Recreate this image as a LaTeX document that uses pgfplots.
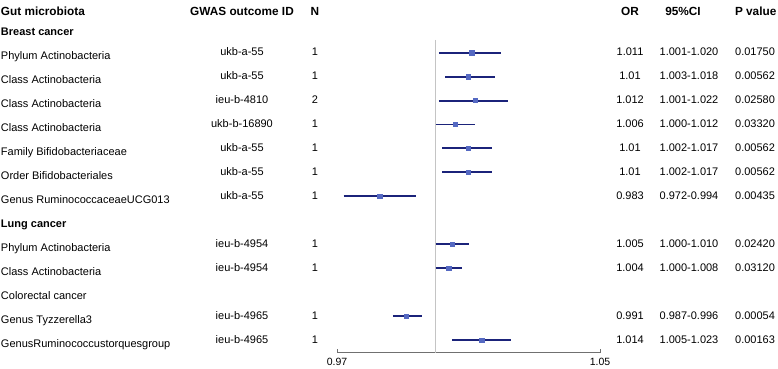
\documentclass[border=0pt]{standalone}
\usepackage{fontspec}
\setmainfont{Liberation Sans}
\usepackage{pgfplots}
\pgfplotsset{compat=1.18}
\usepackage{pgfplotstable}

\definecolor{cinavy}{HTML}{1B237A}
\definecolor{ptblue}{HTML}{5569C2}
\definecolor{refgray}{HTML}{C4C4C4}
\definecolor{axgray}{HTML}{707070}

% row (negative row index), OR, lower CI, upper CI
\pgfplotstableread{
row    or     lo     hi
-2     1.011  1.001  1.020
-3     1.010  1.003  1.018
-4     1.012  1.001  1.022
-5     1.006  1.000  1.012
-6     1.010  1.002  1.017
-7     1.010  1.002  1.017
-8     0.983  0.972  0.994
-10    1.005  1.000  1.010
-11    1.004  1.000  1.008
-13    0.991  0.987  0.996
-14    1.014  1.005  1.023
}\foresttable

\begin{document}
\begin{tikzpicture}[tx/.style={inner sep=0pt, outer sep=0pt, text height=1.45ex, text depth=0.3ex},
  nm/.style={tx, anchor=west, yshift=-4pt}]
\begin{axis}[
  scale only axis,
  width=263pt, height=352.7pt,
  xmin=0.97, xmax=1.05,
  ymin=-14.53, ymax=0.2005,
  axis y line=none,
  axis x line*=bottom,
  x axis line style={axgray, line width=0.6pt},
  xtick={0.97,1.05},
  xticklabels={0.97,1.05},
  tick align=inside,
  major tick length=3.5pt,
  xtick style={axgray, line width=0.6pt},
  /pgf/number format/assume math mode=true,
  xticklabel style={font=\fontsize{10.5}{12}\selectfont, inner sep=0pt, yshift=-5.5pt},
  clip=false,
]
% reference line at OR = 1
\addplot[refgray, line width=0.9pt] coordinates {(1,-1.47) (1,-14.53)};
% confidence intervals (from lower to upper limit)
\addplot[cinavy, line width=1.95pt, -,
  quiver={u=\thisrow{hi}-\thisrow{lo}, v=0}]
  table[x=lo, y=row] {\foresttable};
% point estimates
\addplot[only marks, mark=square*, mark size=2.1pt,
  mark options={fill=ptblue, draw=ptblue}]
  table[x=or, y=row] {\foresttable};

% ---------- text columns ----------
\def\hdr{\fontsize{11.8}{14}\selectfont\bfseries}
\def\grp{\fontsize{11}{13}\selectfont\bfseries}
\def\txt{\fontsize{11}{13}\selectfont}
% headers
\node[tx, anchor=west] at (axis cs:0.86779,-0.30) {\hdr Gut microbiota};
\node[tx] at (axis cs:0.94110,-0.30) {\hdr GWAS outcome ID};
\node[tx] at (axis cs:0.96331,-0.30) {\hdr N};
\node[tx] at (axis cs:1.05913,-0.30) {\hdr OR};
\node[tx] at (axis cs:1.07525,-0.30) {\hdr 95\%CI};
\node[tx, anchor=west] at (axis cs:1.09107,-0.30) {\hdr P value};
% group labels
\node[nm] at (axis cs:0.86779,-1) {\grp Breast cancer};
\node[nm] at (axis cs:0.86779,-9) {\grp Lung cancer};
\node[nm] at (axis cs:0.86779,-12) {\txt Colorectal cancer};
% rows
\foreach \r/\name/\id/\n/\orv/\ci/\p in {
  2/Phylum Actinobacteria/ukb-a-55/1/1.011/1.001-1.020/0.01750,
  3/Class Actinobacteria/ukb-a-55/1/1.01/1.003-1.018/0.00562,
  4/Class Actinobacteria/ieu-b-4810/2/1.012/1.001-1.022/0.02580,
  5/Class Actinobacteria/ukb-b-16890/1/1.006/1.000-1.012/0.03320,
  6/Family Bifidobacteriaceae/ukb-a-55/1/1.01/1.002-1.017/0.00562,
  7/Order Bifidobacteriales/ukb-a-55/1/1.01/1.002-1.017/0.00562,
  8/Genus RuminococcaceaeUCG013/ukb-a-55/1/0.983/0.972-0.994/0.00435,
  10/Phylum Actinobacteria/ieu-b-4954/1/1.005/1.000-1.010/0.02420,
  11/Class Actinobacteria/ieu-b-4954/1/1.004/1.000-1.008/0.03120,
  13/Genus Tyzzerella3/ieu-b-4965/1/0.991/0.987-0.996/0.00054,
  14/GenusRuminococcustorquesgroup/ieu-b-4965/1/1.014/1.005-1.023/0.00163}{
  \edef\tmp{\noexpand\node[nm] at (axis cs:0.86779,-\r) {\noexpand\txt \name};
    \noexpand\node[tx] at (axis cs:0.94110,-\r) {\noexpand\txt \id};
    \noexpand\node[tx] at (axis cs:0.96331,-\r) {\noexpand\txt \n};
    \noexpand\node[tx] at (axis cs:1.05913,-\r) {\noexpand\txt \orv};
    \noexpand\node[tx] at (axis cs:1.07707,-\r) {\noexpand\txt \ci};
    \noexpand\node[tx] at (axis cs:1.09715,-\r) {\noexpand\txt \p};}
  \tmp
}
\coordinate (bbtl) at (axis cs:0.86749,0.2005);
\coordinate (bbbr) at (axis cs:1.10414,-15.21);
\end{axis}
\pgfresetboundingbox
\path (bbtl) rectangle (bbbr);
\end{tikzpicture}
\end{document}
